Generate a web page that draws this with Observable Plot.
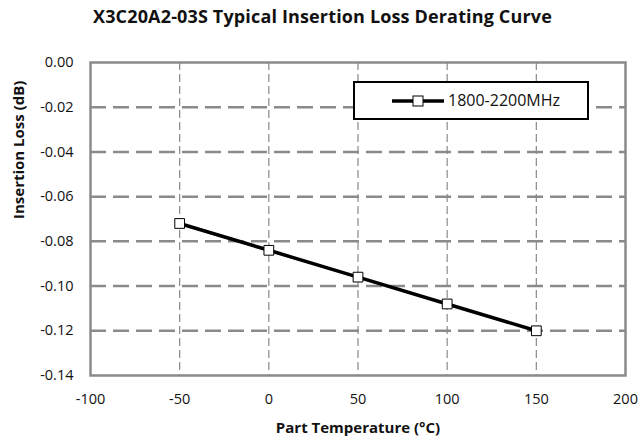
<!DOCTYPE html>
<html>
<head>
<meta charset="utf-8">
<script src="https://cdn.jsdelivr.net/npm/d3@7"></script>
<script src="https://cdn.jsdelivr.net/npm/@observablehq/plot@0.6"></script>
<style>
  body { margin: 0; background: #fff; }
  #wrap { position: relative; width: 639px; height: 441px; font-family: "Open Sans", sans-serif; }
  #title { position: absolute; left: 3px; top: 4px; width: 639px; text-align: center; font-weight: bold; font-size: 18px; color: #111; letter-spacing: 0.15px; white-space: nowrap; }
  #legend { position: absolute; left: 353px; top: 81px; width: 232px; height: 35px; border: 2px solid #000; background: #fff; box-sizing: content-box; }
  #legend svg { position: absolute; left: 36px; top: 10px; }
  #legend span { position: absolute; left: 93px; top: 6px; font-size: 16px; color: #111; }
</style>
</head>
<body>
<div id="wrap">
  <div id="chart"></div>
  <div id="title">X3C20A2-03S Typical Insertion Loss Derating Curve</div>
  <div id="legend"><svg width="54" height="16"><line x1="1" y1="8" x2="53" y2="8" stroke="#000" stroke-width="3.5"/><rect x="22" y="3" width="10" height="10" fill="#fff" stroke="#000" stroke-width="1"/></svg><span>1800-2200MHz</span></div>
</div>
<script>
const seriesName = "1800-2200MHz";
const temperatures = [-50, 0, 50, 100, 150];
const insertionLoss = [-0.072, -0.084, -0.096, -0.108, -0.120];
const xTicks = [-100, -50, 0, 50, 100, 150, 200];
const yTicks = [0, -0.02, -0.04, -0.06, -0.08, -0.10, -0.12, -0.14];

const data = temperatures.map((t, i) => ({t, v: insertionLoss[i]}));
const gray = "#8a8a8a";

const chart = Plot.plot({
  width: 639,
  height: 441,
  marginLeft: 90,
  marginRight: 14,
  marginTop: 62,
  marginBottom: 66,
  style: {fontFamily: "Open Sans, sans-serif", fontSize: "14px", color: "#111", background: "#fff"},
  x: {domain: [-100, 200], ticks: xTicks, tickFormat: d => String(d), label: null},
  y: {domain: [-0.14, 0], ticks: yTicks, tickFormat: d => d.toFixed(2), label: null},
  marks: [
    Plot.gridY(yTicks.slice(1, -1), {stroke: gray, strokeOpacity: 1, strokeWidth: 2.5, strokeDasharray: "16,7"}),
    Plot.gridX(xTicks.slice(1, -1), {stroke: gray, strokeOpacity: 1, strokeWidth: 1.2, strokeDasharray: "8,4"}),
    Plot.frame({stroke: gray, strokeWidth: 2.5}),
    Plot.axisX(xTicks, {tickSize: 0, tickPadding: 18, fontSize: 14.5, tickFormat: d => String(d), label: null}),
    Plot.axisY(yTicks, {tickSize: 0, tickPadding: 17, fontSize: 14.5, tickFormat: d => d.toFixed(2), label: null}),
    Plot.line(data, {x: "t", y: "v", stroke: "#000", strokeWidth: 3.5}),
    Plot.dot(data, {x: "t", y: "v", symbol: "square", r: 5.5, fill: "#fff", stroke: "#000", strokeWidth: 1}),
    Plot.text(["Part Temperature (°C)"], {frameAnchor: "bottom", dy: 57, fontWeight: "bold", fontSize: 15, text: d => d}),
    Plot.text(["Insertion Loss (dB)"], {frameAnchor: "left", dx: -71, rotate: -90, fontWeight: "bold", fontSize: 15, text: d => d})
  ]
});
document.getElementById("chart").appendChild(chart);
</script>
</body>
</html>
